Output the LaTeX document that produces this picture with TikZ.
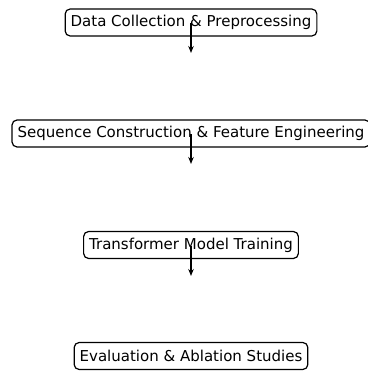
\documentclass[tikz,border=0pt]{standalone}
\usepackage{fontspec}
\setmainfont{DejaVu Sans}
\usetikzlibrary{arrows.meta}
\begin{document}
\begin{tikzpicture}[x=1pt,y=-1pt,
  stage/.style={draw=black, line width=1.2pt, rounded corners=5pt, fill=white,
    inner xsep=5.5pt, inner ysep=0pt, minimum height=27pt,
    font=\fontsize{15}{17}\selectfont},
  flow/.style={line width=1.2pt, -{Stealth[length=7pt,width=5.5pt]}}]
\useasboundingbox (0,0) rectangle (367,371);
\node[stage] (n1) at (191,22.5) {Data Collection \& Preprocessing};
\node[stage] (n2) at (191,133.5) {Sequence Construction \& Feature Engineering};
\node[stage] (n3) at (191,245) {Transformer Model Training};
\node[stage] (n4) at (191,356) {Evaluation \& Ablation Studies};
\coordinate (e1) at (191,53);
\coordinate (e2) at (191,164);
\coordinate (e3) at (191,276);
\draw[flow] ([yshift=-1pt]n1.center) -- (e1);
\draw[flow] ([yshift=-1pt]n2.center) -- (e2);
\draw[flow] ([yshift=-1pt]n3.center) -- (e3);
\end{tikzpicture}
\end{document}
